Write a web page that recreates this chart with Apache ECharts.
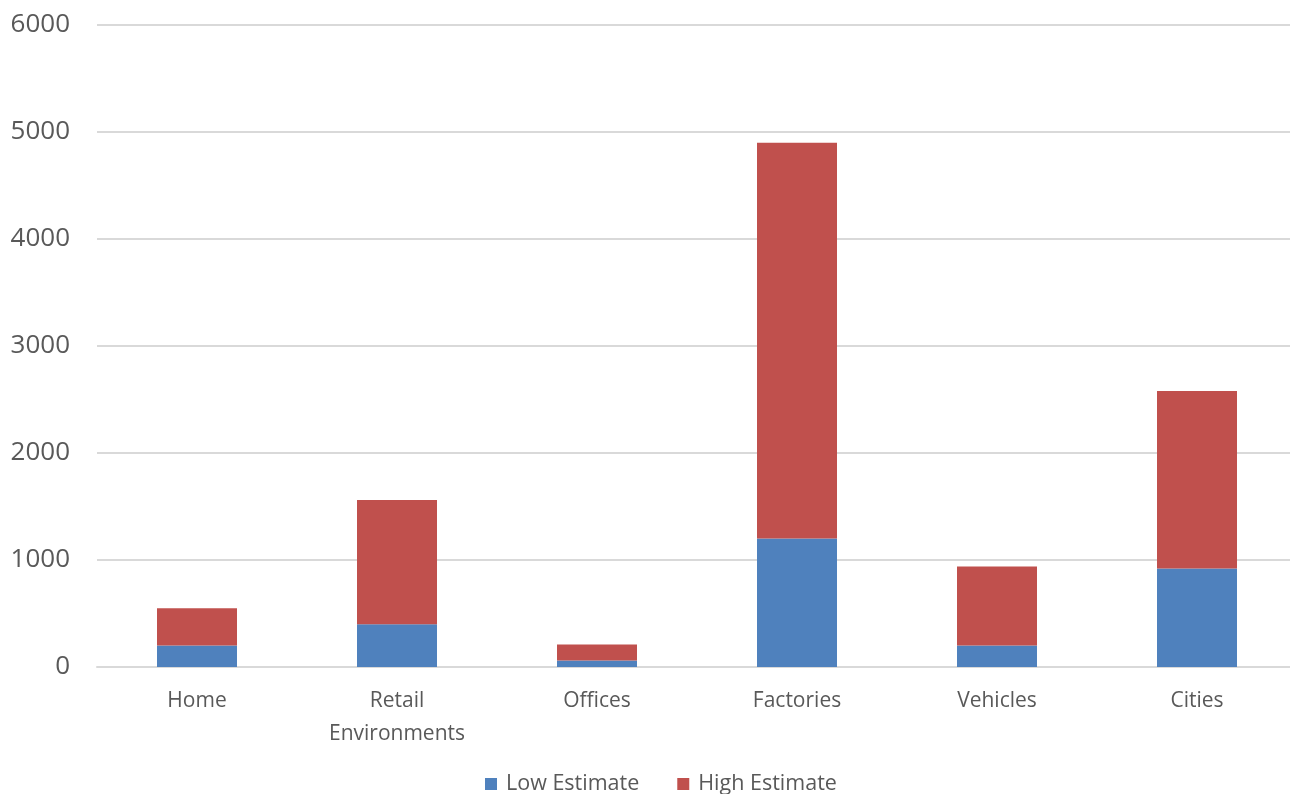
<!DOCTYPE html>
<html>
<head>
<meta charset="utf-8">
<script src="https://cdn.jsdelivr.net/npm/echarts@6/dist/echarts.min.js"></script>
<style>
html,body{margin:0;padding:0;background:#fff;overflow:hidden;}
#chart{width:1290px;height:794px;}
</style>
</head>
<body>
<div id="chart"></div>
<script>
const categories = ['Home', 'Retail\nEnvironments', 'Offices', 'Factories', 'Vehicles', 'Cities'];
const lowEstimate = [200, 400, 60, 1200, 200, 920];
const highEstimate = [350, 1160, 150, 3700, 740, 1660];
const yTicks = { min: 0, max: 6000, interval: 1000 };

const chart = echarts.init(document.getElementById('chart'));
const font = '"Open Sans", "DejaVu Sans", sans-serif';
chart.setOption({
  animation: false,
  backgroundColor: '#ffffff',
  grid: { left: 97, width: 1200, top: 25, bottom: 127, containLabel: false, outerBoundsMode: 'none' },
  legend: {
    data: ['Low Estimate', 'High Estimate'],
    left: 480,
    top: 768,
    itemWidth: 12,
    itemHeight: 12,
    itemGap: 38,
    icon: 'rect',
    textStyle: { fontFamily: font, fontSize: 21.5, color: '#595959', padding: [0, 0, 0, 4] }
  },
  xAxis: {
    type: 'category',
    data: categories,
    axisLine: { lineStyle: { color: '#D9D9D9', width: 2 } },
    axisTick: { show: false },
    axisLabel: { fontFamily: font, fontSize: 21, color: '#595959', margin: 18, lineHeight: 33, interval: 0 }
  },
  yAxis: {
    type: 'value',
    min: yTicks.min,
    max: yTicks.max,
    interval: yTicks.interval,
    axisLine: { show: false },
    axisTick: { show: false },
    splitLine: { lineStyle: { color: '#D9D9D9', width: 2 } },
    axisLabel: { fontFamily: font, fontSize: 26, color: '#595959', margin: 27, formatter: v => String(v) }
  },
  series: [
    {
      name: 'Low Estimate', type: 'bar', stack: 'total', barWidth: 80,
      data: lowEstimate, itemStyle: { color: '#4F81BD' }
    },
    {
      name: 'High Estimate', type: 'bar', stack: 'total', barWidth: 80,
      data: highEstimate, itemStyle: { color: '#C0504D' }
    }
  ]
});
</script>
</body>
</html>
